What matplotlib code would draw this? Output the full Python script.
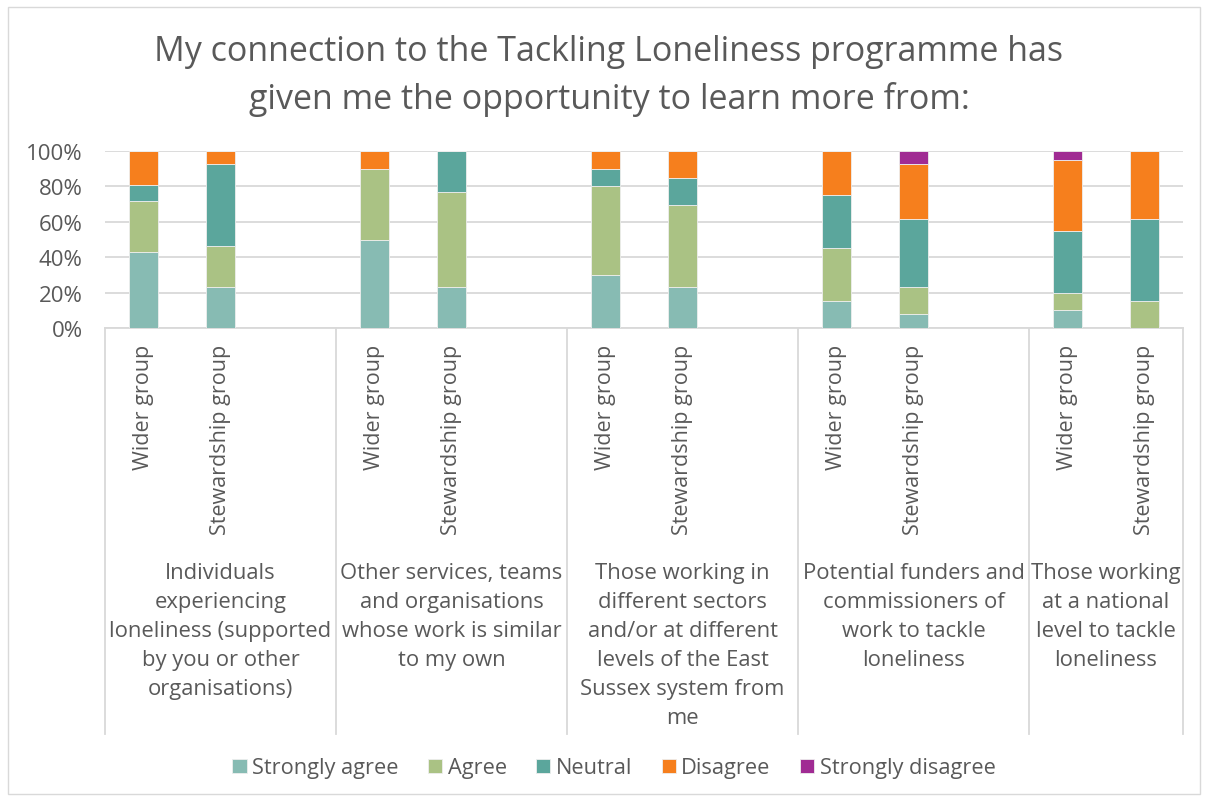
import matplotlib
matplotlib.use("Agg")
import matplotlib.pyplot as plt
import matplotlib.transforms as mtransforms
from matplotlib.patches import Rectangle
import numpy as np

plt.rcParams['font.family'] = ['Open Sans', 'DejaVu Sans']

# ---- data ----
bar_labels = ["Wider group", "Stewardship group", "",
              "Wider group", "Stewardship group", "",
              "Wider group", "Stewardship group", "",
              "Wider group", "Stewardship group", "",
              "Wider group", "Stewardship group"]
group_labels = ["Individuals\nexperiencing\nloneliness (supported\nby you or other\norganisations)",
                "Other services, teams\nand organisations\nwhose work is similar\nto my own",
                "Those working in\ndifferent sectors\nand/or at different\nlevels of the East\nSussex system from\nme",
                "Potential funders and\ncommissioners of\nwork to tackle\nloneliness",
                "Those working\nat a national\nlevel to tackle\nloneliness"]
series_names = ["Strongly agree", "Agree", "Neutral", "Disagree", "Strongly disagree"]
strongly_agree = [42.9, 23.1, 0, 50.0, 23.1, 0, 30.0, 23.1, 0, 15.0, 7.7, 0, 10.0, 0.0]
agree          = [28.6, 23.1, 0, 40.0, 53.8, 0, 50.0, 46.2, 0, 30.0, 15.4, 0, 10.0, 15.4]
neutral        = [9.5, 46.2, 0, 0.0, 23.1, 0, 10.0, 15.4, 0, 30.0, 38.5, 0, 35.0, 46.2]
disagree       = [19.0, 7.7, 0, 10.0, 0.0, 0, 10.0, 15.4, 0, 25.0, 30.8, 0, 40.0, 38.5]
strongly_dis   = [0.0, 0.0, 0, 0.0, 0.0, 0, 0.0, 0.0, 0, 0.0, 7.7, 0, 5.0, 0.0]
colors = ['#87BBB3', '#AAC284', '#5BA69C', '#F67F1D', '#A02B93']

W, H = 1209, 803
fig = plt.figure(figsize=(W/100, H/100), dpi=100)
ax = fig.add_axes([105/W, 1-329/H, (1183-105)/W, (329-152)/H])

x = np.arange(len(bar_labels))
bottom = np.zeros(len(x))
handles = []
for name, vals, c in zip(series_names, [strongly_agree, agree, neutral, disagree, strongly_dis], colors):
    v = np.array(vals, dtype=float)
    b = ax.bar(x, v, bottom=bottom, width=0.37, color=c, edgecolor='#eeeeee', linewidth=0.6, label=name, zorder=3)
    handles.append(b)
    bottom += v

ax.set_xlim(-0.5, len(x) - 0.5)
ax.set_ylim(0, 100)
ax.set_yticks([0, 20, 40, 60, 80, 100])
ax.set_yticklabels(['0%', '20%', '40%', '60%', '80%', '100%'])
ax.yaxis.grid(True, color='#D9D9D9', linewidth=1.3, zorder=0)
ax.set_axisbelow(True)
for s in ['top', 'right', 'left']:
    ax.spines[s].set_visible(False)
ax.spines['bottom'].set_color('#D9D9D9')
ax.spines['bottom'].set_linewidth(1.3)
ax.tick_params(axis='y', length=0, labelsize=16, labelcolor='#595959', pad=16)
ax.set_xticks(x)
ax.set_xticklabels(bar_labels, rotation=90, ha='center', va='top', fontsize=15.5, color='#595959')
ax.tick_params(axis='x', length=0, pad=11)

# group separators and group labels
trans = mtransforms.blended_transform_factory(ax.transData, ax.transAxes)
sep_bottom = -(735 - 329) / (329 - 152)
for xs in [-0.5, 2.5, 5.5, 8.5, 11.5, 13.5]:
    ax.plot([xs, xs], [0, sep_bottom], transform=trans, color='#D9D9D9', linewidth=1.3, clip_on=False)
centers = [1, 4, 7, 10, 12.5]
label_top = -(563 - 329) / (329 - 152)
for cx, lab in zip(centers, group_labels):
    ax.text(cx, label_top, lab, transform=trans, ha='center', va='top', fontsize=15.8,
            color='#595959', linespacing=1.5)

fig.suptitle("My connection to the Tackling Loneliness programme has\ngiven me the opportunity to learn more from:",
             x=609/W, y=1-35/H, va='top', ha='center', fontsize=24.5, color='#595959', linespacing=1.48)

fig.legend(handles=handles, labels=series_names, loc='center', bbox_to_anchor=(614/W, 1-769/H), ncol=5,
           frameon=False, fontsize=15.7, handlelength=0.65, handleheight=0.65, handletextpad=0.25,
           columnspacing=1.35, labelcolor='#595959')

fig.patches.append(Rectangle((8/W, 8/H), (1200-8)/W, (795-8)/H, transform=fig.transFigure,
                             fill=False, edgecolor='#D9D9D9', linewidth=1))

fig.savefig('out.png', dpi=100, facecolor='white')
